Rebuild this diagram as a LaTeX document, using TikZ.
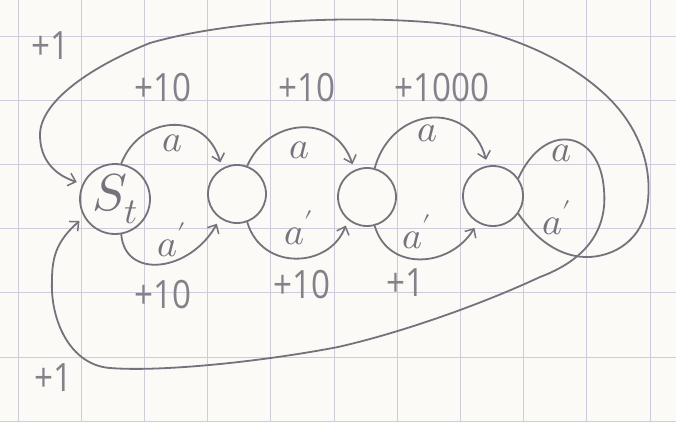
\documentclass[tikz,border=0pt]{standalone}
\usepackage{unicode-math}
\setmathfont{Latin Modern Math}
\newfontfamily\handfont{Open Sans}
\usetikzlibrary{arrows.meta}
\definecolor{pencil}{HTML}{76727C}
\definecolor{pencilt}{HTML}{85818B}
\definecolor{gridc}{HTML}{CFCBDA}
\definecolor{paper}{HTML}{FBFAF7}
\begin{document}
\begin{tikzpicture}[x=1pt,y=-1pt,
  pen/.style={draw=pencil,line width=1.8pt,line cap=round},
  arr/.style={pen,-{Straight Barb[length=7pt,width=13pt,line width=1.5pt]},shorten >=6pt},
  state/.style={circle,draw=pencil,line width=1.8pt,inner sep=0pt},
  lab/.style={text=pencil,font=\fontsize{38}{40}\selectfont},
  num/.style={text=pencilt,font=\handfont\fontsize{39}{42}\selectfont,xscale=0.85}]
\useasboundingbox[fill=paper] (0,0) rectangle (676,421);
% graph paper
\foreach \i in {0,...,10} \draw[gridc,line width=1pt] ({18+63.2*\i},0) -- ({18+63.2*\i},421);
\foreach \j in {0,...,6} \draw[gridc,line width=1pt] (0,{36.5+64.1*\j}) -- (676,{36.5+64.1*\j});
% states
\node[state,minimum size=70pt] (st) at (115,199) {\fontsize{52}{54}\selectfont\color{pencil}$S_t$};
\node[state,minimum size=58pt] (n2) at (237,194) {};
\node[state,minimum size=58pt] (n3) at (367,197) {};
\node[state,minimum size=60pt] (n4) at (493,196) {};
% forward transitions
\draw[arr] (st.80) .. controls (140,115) and (205,110) .. (n2.120);
\draw[arr] (st.-80) .. controls (125,280) and (190,272) .. (n2.-125);
\draw[arr] (n2.70) .. controls (268,118) and (335,112) .. (n3.115);
\draw[arr] (n2.-70) .. controls (262,272) and (330,268) .. (n3.-130);
\draw[arr] (n3.75) .. controls (392,105) and (470,100) .. (n4.100);
\draw[arr] (n3.-75) .. controls (388,272) and (450,268) .. (n4.-120);
% return via a (loop then bottom)
\draw[arr] (n4.35) .. controls (545,120) and (600,130) .. (604,190)
  .. controls (608,235) and (580,262) .. (540,277)
  .. controls (480,305) and (400,333) .. (338,347)
  .. controls (260,362) and (160,372) .. (110,368)
  .. controls (70,365) and (50,320) .. (52,280)
  .. controls (52,255) and (58,240) .. (st.210);
% return via a' (top)
\draw[arr] (n4.-35) .. controls (540,245) and (565,258) .. (590,257)
  .. controls (620,255) and (645,235) .. (648,200)
  .. controls (652,160) and (635,120) .. (600,90)
  .. controls (560,55) and (500,30) .. (438,23)
  .. controls (350,15) and (230,20) .. (150,43)
  .. controls (95,65) and (40,100) .. (40,135)
  .. controls (40,160) and (55,175) .. (st.155);
% action labels
\node[lab] (la1) at (173,143) {$a$};
\node[lab] (lb1) at (172,240) {$a'$};
\node[lab] (la2) at (300,150) {$a$};
\node[lab] (lb2) at (299,228) {$a'$};
\node[lab] (la3) at (428,133) {$a$};
\node[lab] (lb3) at (417,232) {$a'$};
\node[lab] (la4) at (562,153) {$a$};
\node[lab] (lb4) at (557,218) {$a'$};
% rewards
\node[num] (r1) at (163,88) {+10};
\node[num] (r2) at (307,88) {+10};
\node[num,xscale=1.0] (r3) at (442,88) {+1000};
\node[num] (r4) at (163,295) {+10};
\node[num] (r5) at (302,285) {+10};
\node[num] (r6) at (405,283) {+1};
\node[num] (r7) at (50,46) {+1};
\node[num] (r8) at (53,378) {+1};
\end{tikzpicture}
\end{document}
